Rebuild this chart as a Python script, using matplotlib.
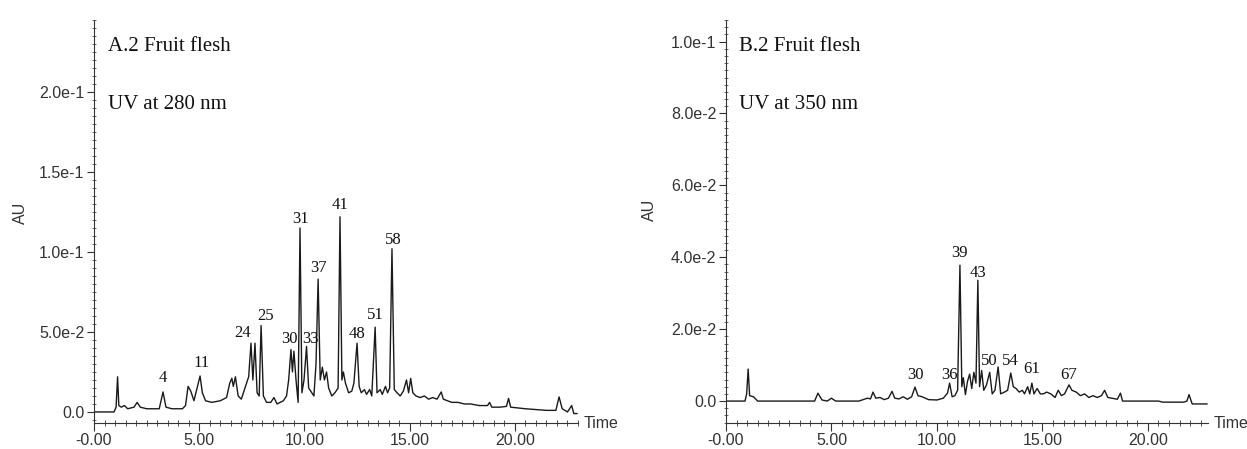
import matplotlib
matplotlib.use("Agg")
import matplotlib.pyplot as plt
from matplotlib.ticker import MultipleLocator, FixedLocator, FixedFormatter

# ---- panel A: UV 280 nm trace (time in min, absorbance in AU) ----
a_time = [0.0, 0.95, 1.05, 1.12, 1.18, 1.3, 1.45, 1.6, 1.9, 2.05, 2.2, 2.5, 2.8, 3.1,
          3.28, 3.42, 3.7, 4.2, 4.35, 4.47, 4.6, 4.75, 4.9, 5.04, 5.15, 5.3, 5.6, 6.0,
          6.3, 6.45, 6.55, 6.62, 6.72, 6.85, 7.0, 7.2, 7.35, 7.46, 7.55, 7.65, 7.75,
          7.85, 7.94, 8.05, 8.2, 8.4, 8.55, 8.7, 9.0, 9.15, 9.25, 9.36, 9.43, 9.5,
          9.6, 9.7, 9.79, 9.88, 9.98, 10.1, 10.2, 10.35, 10.45, 10.55, 10.65, 10.75,
          10.85, 10.95, 11.05, 11.15, 11.3, 11.45, 11.6, 11.69, 11.78, 11.85, 11.95,
          12.1, 12.25, 12.35, 12.5, 12.6, 12.7, 12.85, 12.95, 13.1, 13.2, 13.36,
          13.45, 13.6, 13.7, 13.85, 13.95, 14.05, 14.16, 14.27, 14.4, 14.55, 14.7,
          14.85, 14.95, 15.05, 15.15, 15.3, 15.5, 15.7, 15.9, 16.1, 16.3, 16.5, 16.6,
          16.8, 17.0, 17.3, 17.6, 17.9, 18.3, 18.7, 18.8, 18.9, 19.3, 19.6, 19.7,
          19.8, 20.5, 21.5, 21.95, 22.1, 22.25, 22.5, 22.7, 22.8, 22.95]
a_au = [0.0, 0.0, 0.003, 0.022, 0.004, 0.003, 0.004, 0.002, 0.003, 0.006, 0.003, 0.002,
        0.002, 0.002, 0.0125, 0.003, 0.002, 0.002, 0.004, 0.016, 0.013, 0.007, 0.015,
        0.0225, 0.012, 0.007, 0.006, 0.007, 0.009, 0.018, 0.021, 0.016, 0.022, 0.01,
        0.008, 0.016, 0.022, 0.043, 0.02, 0.043, 0.012, 0.01, 0.054, 0.01, 0.006, 0.006,
        0.009, 0.005, 0.007, 0.01, 0.02, 0.039, 0.025, 0.038, 0.02, 0.006, 0.115, 0.012,
        0.02, 0.041, 0.015, 0.012, 0.01, 0.03, 0.083, 0.02, 0.028, 0.02, 0.025, 0.015,
        0.01, 0.012, 0.015, 0.122, 0.02, 0.025, 0.018, 0.012, 0.013, 0.018, 0.043,
        0.016, 0.012, 0.014, 0.011, 0.014, 0.01, 0.053, 0.012, 0.014, 0.011, 0.016,
        0.012, 0.015, 0.102, 0.014, 0.012, 0.01, 0.013, 0.02, 0.012, 0.021, 0.012, 0.01,
        0.009, 0.01, 0.008, 0.009, 0.008, 0.0125, 0.008, 0.007, 0.006, 0.006, 0.005,
        0.005, 0.004, 0.004, 0.006, 0.003, 0.003, 0.0035, 0.0085, 0.003, 0.002, 0.001,
        0.001, 0.0094, 0.002, 0.0, 0.004, -0.001, -0.001]
a_labels = ["4", "11", "24", "25", "30", "31", "33", "37", "41", "48", "51", "58"]
a_label_time = [3.28, 5.13, 7.08, 8.13, 9.27, 9.79, 10.27, 10.65, 11.69, 12.5, 13.36, 14.2]
a_label_au = [0.0188, 0.028, 0.047, 0.0575, 0.043, 0.118, 0.043, 0.0875, 0.127, 0.046,
              0.058, 0.105]
a_yticks = [0.0, 0.05, 0.10, 0.15, 0.20]
a_yticklabels = ["0.0", "5.0e-2", "1.0e-1", "1.5e-1", "2.0e-1"]

# ---- panel B: UV 350 nm trace ----
b_time = [0.0, 0.9, 0.98, 1.05, 1.12, 1.3, 1.5, 4.2, 4.36, 4.55, 4.8, 5.0, 5.2, 6.3,
          6.5, 6.7, 6.85, 6.97, 7.1, 7.3, 7.5, 7.7, 7.87, 8.0, 8.2, 8.4, 8.6, 8.8, 8.96,
          9.1, 9.3, 9.6, 10.0, 10.3, 10.5, 10.6, 10.72, 10.85, 10.98, 11.09, 11.18,
          11.25, 11.35, 11.45, 11.55, 11.65, 11.75, 11.85, 11.94, 12.02, 12.12, 12.22,
          12.35, 12.5, 12.62, 12.75, 12.9, 13.02, 13.2, 13.35, 13.5, 13.62, 13.75,
          13.9, 14.05, 14.15, 14.3, 14.4, 14.5, 14.6, 14.75, 14.9, 15.05, 15.2, 15.4,
          15.6, 15.75, 15.9, 16.05, 16.26, 16.4, 16.6, 16.8, 17.0, 17.2, 17.4, 17.6,
          17.8, 17.95, 18.1, 18.3, 18.55, 18.7, 18.8, 19.5, 20.5, 20.7, 21.7, 21.85,
          21.95, 22.1, 22.8]
b_au = [0.0, 0.0, 0.002, 0.0089, 0.0015, 0.0012, 0.0, 0.0, 0.0022, 0.0003, 0.0, 0.0008,
        0.0, 0.0, 0.0004, 0.0008, 0.0006, 0.0025, 0.0008, 0.001, 0.0004, 0.0008, 0.0027,
        0.0008, 0.0006, 0.0012, 0.0005, 0.0012, 0.0039, 0.0015, 0.0012, 0.0004, 0.0003,
        0.0008, 0.0022, 0.005, 0.0012, 0.0015, 0.003, 0.0378, 0.004, 0.0065, 0.0018,
        0.0055, 0.0075, 0.0035, 0.008, 0.005, 0.0336, 0.004, 0.0085, 0.003, 0.0045,
        0.008, 0.002, 0.003, 0.0095, 0.002, 0.0025, 0.003, 0.0078, 0.004, 0.0035,
        0.0025, 0.003, 0.002, 0.004, 0.002, 0.005, 0.002, 0.0035, 0.002, 0.002, 0.0025,
        0.002, 0.001, 0.003, 0.0015, 0.002, 0.0045, 0.003, 0.0025, 0.0015, 0.002, 0.001,
        0.0015, 0.001, 0.0015, 0.003, 0.001, 0.0008, 0.0005, 0.0022, 0.0, 0.0, 0.0,
        -0.0003, -0.0003, 0.0, 0.0018, -0.0008, -0.0008]
b_labels = ["30", "36", "39", "43", "50", "54", "61", "67"]
b_label_time = [8.96, 10.6, 11.09, 11.94, 12.5, 13.5, 14.5, 16.26]
b_label_au = [0.0061, 0.0061, 0.040, 0.0344, 0.010, 0.010, 0.0078, 0.0061]
b_yticks = [0.0, 0.02, 0.04, 0.06, 0.08, 0.10]
b_yticklabels = ["0.0", "2.0e-2", "4.0e-2", "6.0e-2", "8.0e-2", "1.0e-1"]

xticks = [0, 5, 10, 15, 20]
xticklabels = ["-0.00", "5.00", "10.00", "15.00", "20.00"]

SANS = "Liberation Sans"
SERIF = "Liberation Serif"
W, H = 1247, 449


def panel(rect, t, au, labels, lab_t, lab_au, yticks, yticklabels,
          xmax, ylim, yminor, title, uv, au_xy):
    ax = fig.add_axes(rect)
    ax.plot(t, au, color="#1a1a1a", lw=1.0)
    ax.set_xlim(0, xmax)
    ax.set_ylim(*ylim)
    for s in ["top", "right"]:
        ax.spines[s].set_visible(False)
    for s in ["left", "bottom"]:
        ax.spines[s].set_linewidth(0.8)
        ax.spines[s].set_color("#333333")
    ax.xaxis.set_major_locator(FixedLocator(xticks))
    ax.xaxis.set_major_formatter(FixedFormatter(xticklabels))
    ax.xaxis.set_minor_locator(MultipleLocator(0.5))
    ax.yaxis.set_major_locator(FixedLocator(yticks))
    ax.yaxis.set_major_formatter(FixedFormatter(yticklabels))
    ax.yaxis.set_minor_locator(MultipleLocator(yminor))
    ax.tick_params(axis="x", which="major", direction="out", length=6, width=0.8,
                   pad=1, colors="#333333", labelsize=11.5)
    ax.tick_params(axis="x", which="minor", direction="inout", length=5, width=0.6,
                   colors="#333333")
    ax.tick_params(axis="y", which="major", direction="out", length=5, width=0.8,
                   pad=2, colors="#333333", labelsize=11.5)
    ax.tick_params(axis="y", which="minor", direction="inout", length=3, width=0.5,
                   colors="#333333")
    for lab in ax.get_xticklabels() + ax.get_yticklabels():
        lab.set_family(SANS)
    for lab, x, y in zip(labels, lab_t, lab_au):
        ax.text(x, y, lab, ha="center", va="baseline", family=SERIF, fontsize=12,
                color="#111111")
    ax.text(1.012, 0.0, "Time", transform=ax.transAxes, ha="left", va="center",
            family=SANS, fontsize=11.5, color="#333333")
    ax.text(0.028, 0.935, title, transform=ax.transAxes, ha="left", va="center",
            family=SERIF, fontsize=15, color="#111111")
    ax.text(0.028, 0.79, uv, transform=ax.transAxes, ha="left", va="center",
            family=SERIF, fontsize=15, color="#111111")
    fig.text(au_xy[0] / W, 1 - au_xy[1] / H, "AU", rotation=90, ha="center",
             va="center", family=SANS, fontsize=11.5, color="#333333")
    return ax


fig = plt.figure(figsize=(W / 100, H / 100), dpi=100)

panel([94 / W, 26 / H, 484 / W, 403 / H], a_time, a_au, a_labels, a_label_time,
      a_label_au, a_yticks, a_yticklabels, 23.0, (-0.0069, 0.245), 0.005,
      "A.2 Fruit flesh", "UV at 280 nm", (20, 213))
panel([726 / W, 26 / H, 482 / W, 403 / H], b_time, b_au, b_labels, b_label_time,
      b_label_au, b_yticks, b_yticklabels, 22.85, (-0.0061, 0.106), 0.002,
      "B.2 Fruit flesh", "UV at 350 nm", (649, 210))

fig.savefig("out.png", dpi=100)
